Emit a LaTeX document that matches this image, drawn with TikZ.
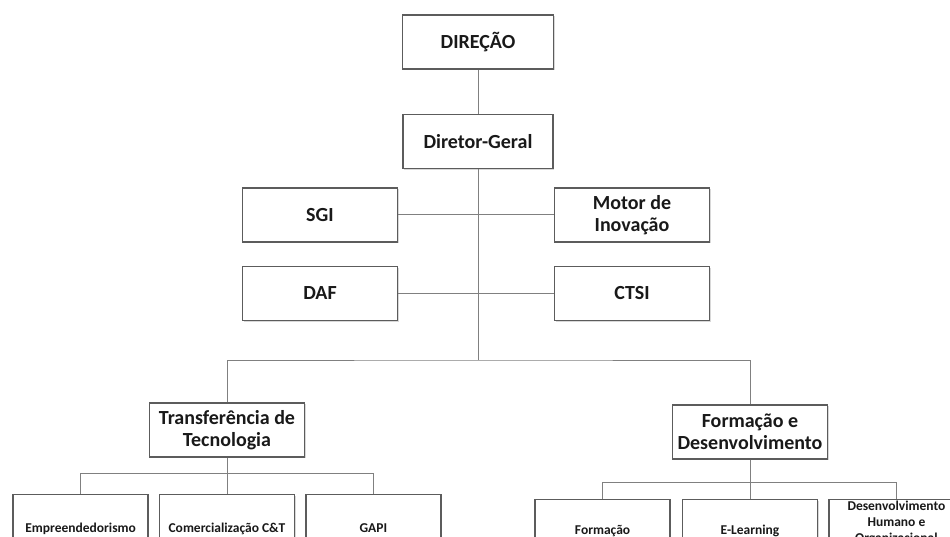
\documentclass[tikz,border=0pt]{standalone}
\usepackage{fontspec}
\setmainfont{Carlito}
\usetikzlibrary{positioning,shadows}
\definecolor{boxline}{rgb}{0.36,0.36,0.36}
\definecolor{conline}{rgb}{0.50,0.50,0.50}
\definecolor{boxtext}{rgb}{0.10,0.10,0.10}
\tikzset{
  box/.style = {draw=boxline,line width=1.4pt,fill=white,align=center,text=boxtext,
    inner sep=2pt,drop shadow={opacity=0.3,shadow xshift=1.2pt,shadow yshift=-1.2pt}},
  unit/.style = {box,minimum width=155pt,minimum height=54pt,
    font=\bfseries\fontsize{20}{22}\selectfont},
  sub/.style = {box,minimum width=135pt,minimum height=68pt,
    font=\bfseries\fontsize{13.5}{16}\selectfont},
  conn/.style = {conline,line width=1pt}
}
\newlength{\colgap}
\setlength{\colgap}{10pt}

\begin{document}
\begin{tikzpicture}[x=1pt,y=-1pt]
\useasboundingbox (0,0) rectangle (950,537);
\clip (0,0) rectangle (950,537);
\fill[white] (0,0) rectangle (950,537);

\node[unit,minimum width=151pt] (dir) at (478,42) {DIREÇÃO};
\node[unit,minimum width=150pt,below=44pt of dir] (dg) {Diretor-Geral}
  edge[conn] (dir);

\node[unit] (sgi) at (320,215) {SGI};
\node[unit] (mot) at (632,215) {Motor de\\Inovação}
  edge[conn] (sgi);

\node[unit,below=23pt of sgi] (daf) {DAF};
\node[unit,below=23pt of mot] (ctsi) {CTSI}
  edge[conn] (daf);

\node[unit] (tt) at (227,430) {Transferência de\\Tecnologia};
\node[unit] (fd) at (750,432) {Formação e\\Desenvolvimento};

% tronco principal
\coordinate (busmain) at (478,360);
\draw[conn] (dg.south) -- (busmain);
\draw[conn] (tt.north) |- (busmain) -| (fd.north);

% transferencia de tecnologia
\node[sub,below=36pt of tt] (com) {Comercialização C\&T};
\node[sub,left=\colgap of com] (emp) {Empreendedorismo};
\node[sub,right=\colgap of com] (gapi) {GAPI};
\draw[conn] (tt.south) -- ++(0,16) coordinate (bustt);
\draw[conn] (emp.north) |- (bustt) -| (gapi.north);
\draw[conn] (bustt) -- (com.north);

% formacao e desenvolvimento
\node[sub,minimum height=64pt,below=39pt of fd] (el) {E-Learning};
\node[sub,minimum height=64pt,left=11pt of el] (form) {Formação};
\node[sub,minimum height=0pt,anchor=north west] (dh) at ([xshift=\colgap]el.north east)
  {Desenvolvimento\\Humano e\\Organizacional};
\draw[conn] (fd.south) -- ++(0,23) coordinate (busfd);
\draw[conn] (form.north) |- (busfd) -| (dh.north);
\draw[conn] (busfd) -- (el.north);
\end{tikzpicture}
\end{document}
